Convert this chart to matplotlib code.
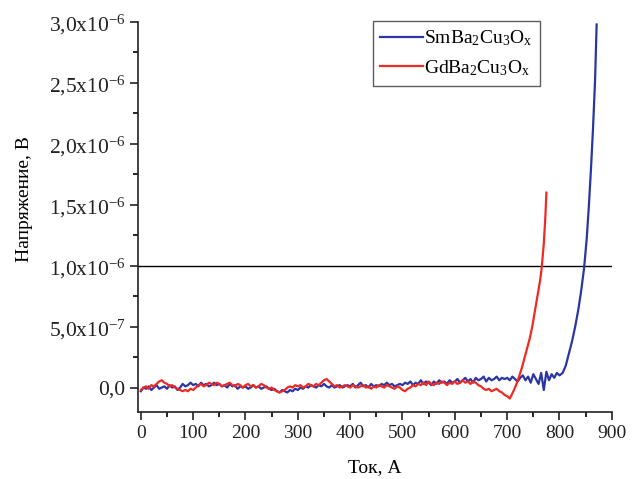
import numpy as np
import matplotlib
matplotlib.use("Agg")
import matplotlib.pyplot as plt
from matplotlib.ticker import MultipleLocator, FixedLocator

plt.rcParams['font.family'] = ['Liberation Serif', 'DejaVu Serif']
plt.rcParams['mathtext.fontset'] = 'custom'
plt.rcParams['mathtext.rm'] = 'Liberation Serif'
plt.rcParams['mathtext.it'] = 'Liberation Serif:italic'

# ---- data (voltage in units of 1e-8 V) ----
sm_base_current = list(range(0, 805, 5))
sm_base_voltage = [
    -3, 0, -1, 1, -2, 0, 2, -1, 0, 1, -1, 2, 0, 1, -2, 0, 3, 1, 2, 4,
    2, 3, 1, 4, 2, 3, 1, 2, 4, 2, 3, 1, 2, 0, 3, 1, 2, -1, 1, 0,
    1, -1, 0, 2, 0, 1, -1, 0, 1, -1, -2, -1, -3, -4, -2, -3, -4, -2, -3, -1,
    -2, 0, -1, 1, 0, 2, 1, 0, 2, 1, 3, 1, 0, 2, 0, 1, 2, 0, 1, 2,
    1, 3, 0, 2, 4, 1, 2, 0, 3, 1, 2, 1, 3, 2, 4, 2, 3, 1, 2, 3,
    2, 4, 3, 5, 2, 4, 3, 6, 3, 5, 4, 2, 5, 3, 6, 4, 5, 3, 6, 4,
    5, 7, 4, 6, 8, 5, 7, 4, 8, 6, 7, 9, 5, 8, 6, 7, 9, 6, 8, 7,
    8, 6, 9, 7, 5, 8, 10, 6, 9, 4, 11, 7, 3, 12, -2, 13, 6, 11, 8, 12,
    10,
]
sm_rise_current = [806, 812, 818, 824, 830, 836, 841, 847, 852, 856, 860, 864, 868, 871]
sm_rise_voltage = [12, 18, 28, 38, 50, 64, 78, 98, 122, 148, 178, 212, 252, 298]

gd_base_current = list(range(0, 710, 5))
gd_base_voltage = [
    -2, 0, 1, -1, 2, 1, 3, 5, 6, 4, 3, 1, 2, 0, -1, -2, -3, -2, -3, -1,
    -2, 0, 2, 3, 1, 2, 4, 3, 2, 4, 3, 1, 2, 3, 4, 2, 1, 3, 2, 0,
    2, 3, 1, 2, 0, 1, 3, 2, 0, -1, 0, -2, -3, -4, -3, -2, 0, 1, 0, 2,
    1, 2, 0, 1, 3, 2, 1, 3, 2, 4, 6, 7, 5, 3, 1, 2, 0, 1, 2, 1,
    0, 2, 1, 0, 1, 2, 0, 1, -1, 1, 0, 2, 1, 0, 2, 1, 0, -1, 1, 0,
    -2, -3, -1, 0, 2, 1, 3, 2, 4, 2, 5, 3, 2, 4, 3, 5, 4, 2, 4, 3,
    5, 3, 4, 6, 4, 5, 3, 5, 4, 2, 1, -1, -2, -1, -3, -2, -1, -3, -4, -6,
    -7, -9,
]
gd_rise_current = [712, 717, 722, 728, 733, 738, 743, 748, 752, 756, 760, 763, 766, 770, 773, 775]
gd_rise_voltage = [-3, 2, 8, 16, 24, 32, 40, 50, 60, 70, 80, 88, 98, 118, 140, 160]

criterion = 1.0e-6
labels = [r'$\mathregular{SmBa_2Cu_3O_x}$', r'$\mathregular{GdBa_2Cu_3O_x}$']
ytick_vals = [0, 5e-7, 1e-6, 1.5e-6, 2e-6, 2.5e-6, 3e-6]
ytick_labels = ['0,0', r'5,0x10$^{\mathregular{-7}}$', r'1,0x10$^{\mathregular{-6}}$',
                r'1,5x10$^{\mathregular{-6}}$', r'2,0x10$^{\mathregular{-6}}$',
                r'2,5x10$^{\mathregular{-6}}$', r'3,0x10$^{\mathregular{-6}}$']

sm_x = np.array(sm_base_current + sm_rise_current, dtype=float)
sm_y = np.array(sm_base_voltage + sm_rise_voltage, dtype=float) * 1e-8
gd_x = np.array(gd_base_current + gd_rise_current, dtype=float)
gd_y = np.array(gd_base_voltage + gd_rise_voltage, dtype=float) * 1e-8

fig = plt.figure(figsize=(6.34, 4.79), dpi=100)
ax = fig.add_axes([0.218, 0.140, 0.747, 0.814])

ax.axhline(criterion, color='black', lw=1.0, zorder=1)
ax.plot(sm_x, sm_y, color='#2b36a3', lw=1.6, label=labels[0], zorder=2)
ax.plot(gd_x, gd_y, color='#ee2a24', lw=1.6, label=labels[1], zorder=3)

ax.set_xlim(-5, 900)
ax.set_ylim(-0.2e-6, 3.0e-6)
ax.xaxis.set_major_locator(MultipleLocator(100))
ax.xaxis.set_minor_locator(MultipleLocator(50))
ax.yaxis.set_major_locator(FixedLocator(ytick_vals))
ax.set_yticklabels(ytick_labels)
ax.yaxis.set_minor_locator(MultipleLocator(2.5e-7))
ax.tick_params(which='major', direction='out', length=6, width=1.2, labelsize=14, colors='#222222')
ax.tick_params(axis='y', which='major', labelsize=15.5, pad=3)
ax.tick_params(which='minor', direction='out', length=3.5, width=1.2)

for s in ['top', 'right']:
    ax.spines[s].set_visible(False)
for s in ['left', 'bottom']:
    ax.spines[s].set_linewidth(1.2)
    ax.spines[s].set_color('#222222')

ax.set_xlabel('Ток, А', fontsize=14, labelpad=12)
ax.set_ylabel('Напряжение, В', fontsize=14)
ax.yaxis.set_label_coords(-0.222, 0.545)

leg = ax.legend(loc='upper left', bbox_to_anchor=(0.495, 1.003), fontsize=14,
                frameon=True, fancybox=False, edgecolor='#333333',
                handlelength=2.2, handletextpad=0.05, borderpad=0.4,
                labelspacing=0.5, borderaxespad=0.0)
leg.get_frame().set_linewidth(1.0)

fig.savefig('out.png', dpi=100)
